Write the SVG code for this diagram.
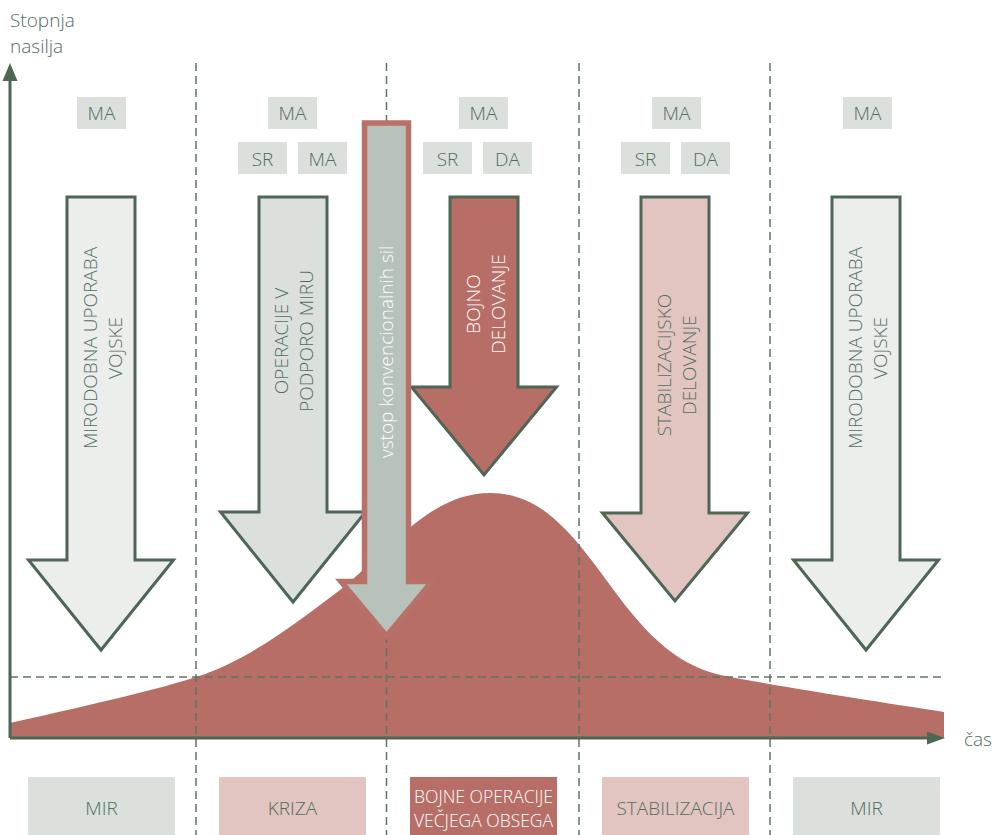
<svg xmlns="http://www.w3.org/2000/svg" width="995" height="835" viewBox="0 0 995 835">
<style>
text{font-family:"Open Sans","Liberation Sans",sans-serif;font-weight:300;}
.t{fill:#526d5d;font-size:19px;}
.tw{fill:#ffffff;font-size:19px;}
.lab{fill:#dbe0dc;}
.arr{stroke:#4e6655;stroke-width:3;stroke-linejoin:miter;}
.dash{stroke:#5e7566;stroke-width:1.5;stroke-dasharray:8 5;fill:none;}
.axis{stroke:#4e6655;stroke-width:3;fill:none;}
</style>
<rect width="995" height="835" fill="#ffffff"/>

<path id="curve" d="M10,738 L10,723 C100,703 170,686 196,677 C250,660 300,620 340,590 C390,550 430,493 490,493 C540,493 570,530 610,585 C650,640 680,668 730,677 C800,690 900,705 944,712 L944,738 Z" fill="#b76e67"/>

<g id="connectors">
<line class="dash" x1="196" y1="63" x2="196" y2="835"/>
<line class="dash" x1="386.5" y1="63" x2="386.5" y2="835"/>
<line class="dash" x1="579" y1="63" x2="579" y2="835"/>
<line class="dash" x1="770" y1="63" x2="770" y2="835"/>
<line class="dash" x1="10" y1="677" x2="945" y2="677"/>
<path class="axis" d="M10,738 L10,80"/>
<path d="M10,63 L17.5,81 L2.5,81 Z" fill="#4e6655"/>
<path class="axis" d="M10,738 L928,738"/>
<path d="M945,738 L927,731.5 L927,744.5 Z" fill="#4e6655"/>
</g>

<g id="axis-labels">
<text class="t" x="10" y="27">Stopnja</text>
<text class="t" x="10" y="53">nasilja</text>
<text class="t" x="964" y="746">čas</text>
</g>

<g id="labels-col1"><rect class="lab" x="77" y="97" width="49" height="32"/><text class="t" x="101.5" y="120" text-anchor="middle">MA</text></g>
<g id="labels-col2">
<rect class="lab" x="268" y="97" width="49" height="32"/><text class="t" x="292.5" y="120" text-anchor="middle">MA</text>
<rect class="lab" x="238" y="142" width="49" height="32"/><text class="t" x="262.5" y="166" text-anchor="middle">SR</text>
<rect class="lab" x="298" y="142" width="49" height="32"/><text class="t" x="322.5" y="166" text-anchor="middle">MA</text>
</g>
<g id="labels-col3">
<rect class="lab" x="459" y="97" width="49" height="32"/><text class="t" x="483.5" y="120" text-anchor="middle">MA</text>
<rect class="lab" x="423" y="142" width="49" height="32"/><text class="t" x="447.5" y="166" text-anchor="middle">SR</text>
<rect class="lab" x="483" y="142" width="49" height="32"/><text class="t" x="507.5" y="166" text-anchor="middle">DA</text>
</g>
<g id="labels-col4">
<rect class="lab" x="652" y="97" width="49" height="32"/><text class="t" x="676.5" y="120" text-anchor="middle">MA</text>
<rect class="lab" x="621" y="142" width="49" height="32"/><text class="t" x="645.5" y="166" text-anchor="middle">SR</text>
<rect class="lab" x="681" y="142" width="49" height="32"/><text class="t" x="705.5" y="166" text-anchor="middle">DA</text>
</g>
<g id="labels-col5"><rect class="lab" x="843" y="97" width="49" height="32"/><text class="t" x="867.5" y="120" text-anchor="middle">MA</text></g>

<g id="arrow-mirodobna-1">
<path class="arr" fill="#eceeec" d="M67,197 L135,197 L135,560 L173.5,560 L101,650 L28.5,560 L67,560 Z"/>
<text class="t" transform="translate(101,348) rotate(-90)" text-anchor="middle"><tspan x="0" y="-4">MIRODOBNA UPORABA</tspan><tspan x="0" y="21">VOJSKE</tspan></text>
</g>
<g id="arrow-operacije">
<path class="arr" fill="#dbe0dc" d="M259,197 L327,197 L327,512 L365.5,512 L293,602 L220.5,512 L259,512 Z"/>
<text class="t" transform="translate(293,341) rotate(-90)" text-anchor="middle"><tspan x="0" y="-5">OPERACIJE V</tspan><tspan x="0" y="20">PODPORO MIRU</tspan></text>
</g>
<g id="arrow-bojno">
<path class="arr" fill="#b76e67" d="M450,197 L518,197 L518,387 L556.5,387 L484,475 L411.5,387 L450,387 Z"/>
<text class="tw" transform="translate(484,304) rotate(-90)" text-anchor="middle"><tspan x="0" y="-4">BOJNO</tspan><tspan x="0" y="21">DELOVANJE</tspan></text>
</g>
<g id="arrow-stabilizacijsko">
<path class="arr" fill="#e2c4c1" d="M641,197 L709,197 L709,513 L747.5,513 L675,601 L602.5,513 L641,513 Z"/>
<text class="t" transform="translate(675,365) rotate(-90)" text-anchor="middle"><tspan x="0" y="-4">STABILIZACIJSKO</tspan><tspan x="0" y="21">DELOVANJE</tspan></text>
</g>
<g id="arrow-mirodobna-2">
<path class="arr" fill="#eceeec" d="M832,197 L900,197 L900,560 L938.5,560 L866,650 L793.5,560 L832,560 Z"/>
<text class="t" transform="translate(866,348) rotate(-90)" text-anchor="middle"><tspan x="0" y="-4">MIRODOBNA UPORABA</tspan><tspan x="0" y="21">VOJSKE</tspan></text>
</g>
<g id="arrow-vstop">
<path fill="#b7c2ba" stroke="#b87068" stroke-width="5.5" stroke-linejoin="miter" d="M364.5,123 L408.5,123 L408.5,581.5 L432,581.5 L386.5,636 L341,581.5 L364.5,581.5 Z"/>
<text class="tw" transform="translate(393,458) rotate(-90)" text-anchor="start" x="0" y="0">vstop konvencionalnih sil</text>
</g>

<g id="phase-mir-1"><rect x="28" y="777" width="147" height="60" fill="#dbe0dc"/><text class="t" x="101.5" y="815" text-anchor="middle">MIR</text></g>
<g id="phase-kriza"><rect x="219" y="777" width="147" height="60" fill="#e2c4c1"/><text class="t" x="292.5" y="815" text-anchor="middle">KRIZA</text></g>
<g id="phase-bojne"><rect x="410" y="777" width="147" height="60" fill="#b76e67"/><text class="tw" style="font-size:17.5px" x="483.5" y="803" text-anchor="middle">BOJNE OPERACIJE</text><text class="tw" style="font-size:17.5px" x="483.5" y="827" text-anchor="middle">VEČJEGA OBSEGA</text></g>
<g id="phase-stabilizacija"><rect x="602" y="777" width="147" height="60" fill="#e2c4c1"/><text class="t" x="675.5" y="815" text-anchor="middle">STABILIZACIJA</text></g>
<g id="phase-mir-2"><rect x="793" y="777" width="147" height="60" fill="#dbe0dc"/><text class="t" x="866.5" y="815" text-anchor="middle">MIR</text></g>
</svg>
